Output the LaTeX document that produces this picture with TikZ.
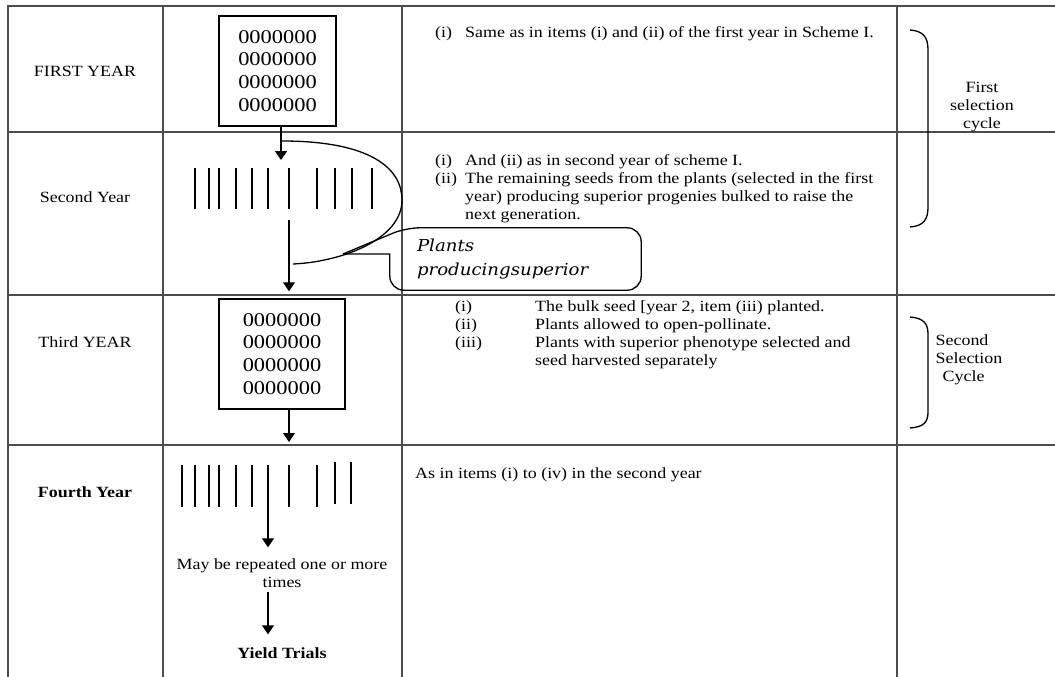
\documentclass[tikz,border=0pt]{standalone}
\usepackage{fontspec}
\setmainfont{Liberation Serif}[FakeStretch=1.15]
\newfontfamily\calloutfont{DejaVu Serif}[FakeStretch=1.1]
\usetikzlibrary{arrows.meta}
\newcommand{\bodysize}{\fontsize{15.6pt}{18pt}\selectfont}
\newcommand{\seedsize}{\fontsize{19.5pt}{22.8pt}\selectfont}
\newcommand{\notesize}{\fontsize{16.5pt}{24pt}\selectfont}
\tikzset{
  grid line/.style={line width=1.2pt, draw=black!70},
  seed box/.style={draw, line width=1.4pt, inner sep=0pt, align=center, font=\seedsize, minimum height=110pt},
  plot line/.style={line width=1.5pt},
  flow/.style={line width=1.3pt, -{Triangle[length=9pt,width=12pt]}},
  cell text/.style={anchor=base west, inner sep=0pt, align=left, font=\bodysize},
  year label/.style={inner sep=0pt, font=\bodysize},
  bracket line/.style={line width=1.3pt},
}

\begin{document}
\begin{tikzpicture}[x=1pt, y=-1pt, font=\bodysize]
    \useasboundingbox (0,0) rectangle (1055,677);

    %%%%%%%%%%%%%%%%%%
    %%%%% Table  %%%%%
    %%%%%%%%%%%%%%%%%%
    \draw[grid line] (1055,6) -- (8,6) -- (8,677);
    \foreach \y in {132,295,445} \draw[grid line] (8,\y) -- (1055,\y);
    \foreach \x in {163,402,897} \draw[grid line] (\x,6) -- (\x,677);

    %%%%%%%%%%%%%%%%%%
    %%%%% Year 1 %%%%%
    %%%%%%%%%%%%%%%%%%
    \node[year label] (Y1) at (85,71) {FIRST YEAR};
    \node[seed box, minimum width=117pt] (S1) at (277.5,71) {0000000\\0000000\\0000000\\0000000};
    \node[cell text] (T1) at (435,38) {\makebox[30pt][l]{(i)}Same as in items (i) and (ii) of the first year in Scheme I.};

    % First bracket
    \draw[bracket line] (910,30) .. controls (924,31) and (928,38) .. (928,50) -- (928,207)
        .. controls (928,219) and (924,226) .. (910,227);
    \node[align=center, inner sep=0pt] (C1) at (982,107) {First\\selection\\cycle};

    %%%%%%%%%%%%%%%%%%
    %%%%% Year 2 %%%%%
    %%%%%%%%%%%%%%%%%%
    \node[year label] (Y2) at (85,197) {Second Year};

    % Rows of plants
    \foreach \x in {195,209,219,236,252,268,289,317,335,352,372}
        \draw[plot line] (\x,168) -- (\x,209);

    \coordinate (in2) at (281,160);
    \draw[flow] (S1.south -| in2) -- (in2);

    % Loop back to the selected plants
    \coordinate (loopA) at (282,141);
    \coordinate (loopB) at (293,264);
    \draw[line width=1.3pt] (loopA) .. controls (370,141) and (402,168) .. (402,200)
        .. controls (402,240) and (340,262) .. (loopB);

    % base of the last line
    \node[cell text] (T2) at (435,219) {\makebox[30pt][l]{(i)}And (ii) as in second year of scheme I.\\
        \makebox[30pt][l]{(ii)}The remaining seeds from the plants (selected in the first\\
        \makebox[30pt]{}year) producing superior progenies bulked to raise the\\
        \makebox[30pt]{}next generation.};

    % Callout
    \node[inner xsep=27pt, inner ysep=0pt, text width=197pt, minimum width=251pt, minimum height=62pt,
        align=left, font={\calloutfont\itshape\notesize}] (note) at (515.5,259) {Plants\\producingsuperior};
    \coordinate (tip) at (343,254);
    \draw[line width=1.3pt] (tip) -- (note.west |- tip) [rounded corners=14pt] -- (note.south west)
        -- (note.south east) -- (note.north east) -- ([xshift=16pt]note.north west) -- (tip);

    %%%%%%%%%%%%%%%%%%
    %%%%% Year 3 %%%%%
    %%%%%%%%%%%%%%%%%%
    \node[year label] (Y3) at (85,342) {Third YEAR};
    \node[seed box, minimum width=126pt] (S2) at (282,354) {0000000\\0000000\\0000000\\0000000};

    \coordinate (out2) at (289,220);
    \draw[flow, shorten >=7pt] (out2) -- (out2 |- S2.north);

    \coordinate (in4) at (289,442);
    \draw[flow] (S2.south -| in4) -- (in4);

    \node[cell text] (T3) at (455,365) {\makebox[80pt][l]{(i)}The bulk seed [year 2, item (iii) planted.\\
        \makebox[80pt][l]{(ii)}Plants allowed to open-pollinate.\\
        \makebox[80pt][l]{(iii)}Plants with superior phenotype selected and\\
        \makebox[80pt]{}seed harvested separately};

    % Second bracket
    \draw[bracket line] (910,317) .. controls (924,318) and (928,324) .. (928,334) -- (928,412)
        .. controls (928,422) and (924,427) .. (910,428);
    \node[align=left, inner sep=0pt] (C2) at (969,360) {Second\\Selection\\\hspace*{7pt}Cycle};

    %%%%%%%%%%%%%%%%%%
    %%%%% Year 4 %%%%%
    %%%%%%%%%%%%%%%%%%
    \node[year label, font=\bodysize\bfseries] (Y4) at (85,492) {Fourth Year};

    \foreach \x in {182,195,209,219,236,252,268,289,317}
        \draw[plot line] (\x,465) -- (\x,507);
    \foreach \x in {335,351}
        \draw[plot line] (\x,462) -- (\x,504);

    \node[align=center, inner sep=0pt] (R4) at (282,573) {May be repeated one or more\\times};
    \node[inner sep=0pt, font=\bodysize\bfseries] (yield) at (282,653) {Yield Trials};

    \coordinate (out4) at (268,507);
    \draw[flow, shorten >=11pt] (out4) -- (out4 |- R4.north);
    \draw[flow, shorten <=4pt, shorten >=13pt] (R4.south -| out4) -- (out4 |- yield.north);

    \node[cell text] (T4) at (415,478) {As in items (i) to (iv) in the second year};

\end{tikzpicture}
\end{document}
